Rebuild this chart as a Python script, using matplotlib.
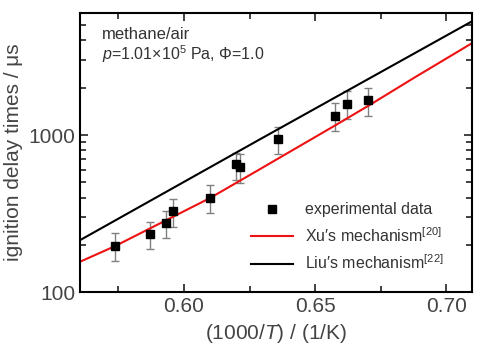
import matplotlib
matplotlib.use("Agg")
import matplotlib.pyplot as plt
from matplotlib.ticker import LogLocator, NullFormatter, FixedLocator

plt.rcParams['font.family'] = ['Liberation Sans', 'DejaVu Sans']
plt.rcParams['mathtext.fontset'] = 'custom'
plt.rcParams['mathtext.rm'] = 'Liberation Sans'
plt.rcParams['mathtext.it'] = 'Liberation Sans:italic'

# experimental data (1000/T, ignition delay in us, error bar limits)
exp_x = [0.5737, 0.5869, 0.5932, 0.5957, 0.6098, 0.6197, 0.6214, 0.6358, 0.6575, 0.6623, 0.6702]
exp_y = [196, 233, 277, 327, 396, 650, 628, 947, 1327, 1584, 1665]
exp_hi = [237, 280, 330, 391, 478, 771, 754, 1130, 1593, 1906, 1983]
exp_lo = [157, 188, 221, 261, 318, 516, 497, 757, 1060, 1270, 1326]

# Xu's mechanism
xu_x = [0.5603, 0.5736, 0.6099, 0.6290, 0.6576, 0.6710, 0.6875, 0.7098]
xu_y = [156, 196, 397, 607, 1150, 1560, 2300, 3840]

# Liu's mechanism
liu_x = [0.5603, 0.6290, 0.7098]
liu_y = [214, 940, 5290]

fig = plt.figure(figsize=(4.9, 3.55), dpi=100)
ax = fig.add_axes([0.163, 0.177, 0.800, 0.787])

err_lo = [y - l for y, l in zip(exp_y, exp_lo)]
err_hi = [h - y for y, h in zip(exp_y, exp_hi)]
ax.errorbar(exp_x, exp_y, yerr=[err_lo, err_hi], fmt='none', ecolor='#808080',
            elinewidth=1.0, capsize=3, capthick=1.0, zorder=2)
pts, = ax.plot(exp_x, exp_y, 's', color='black', markersize=6, zorder=3)
xu, = ax.plot(xu_x, xu_y, color='#ee1111', lw=1.5, zorder=2)
liu, = ax.plot(liu_x, liu_y, color='black', lw=1.5, zorder=2)

ax.set_yscale('log')
ax.set_xlim(0.5603, 0.7098)
ax.set_ylim(100, 6000)
ax.xaxis.set_major_locator(FixedLocator([0.60, 0.65, 0.70]))
ax.xaxis.set_minor_locator(FixedLocator([0.575, 0.625, 0.675]))
ax.set_xticklabels(['0.60', '0.65', '0.70'])
ax.yaxis.set_major_locator(FixedLocator([100, 1000]))
ax.yaxis.set_minor_locator(LogLocator(base=10, subs=range(2, 10)))
ax.yaxis.set_minor_formatter(NullFormatter())
ax.set_yticklabels(['100', '1000'])

ax.tick_params(which='both', direction='in', top=True, right=True, width=1.3)
ax.tick_params(which='major', length=6, labelsize=15, colors='#333333', labelcolor='#444444')
ax.tick_params(which='minor', length=4, colors='#333333')
for s in ax.spines.values():
    s.set_linewidth(1.5)

ax.set_xlabel('(1000/$T$) / (1/K)', fontsize=15, color='#444444', labelpad=4)
ax.set_ylabel('ignition delay times / \u03bcs', fontsize=15, color='#444444', labelpad=4)

ax.text(0.056, 0.905, 'methane/air', transform=ax.transAxes, fontsize=12, color='#333333')
ax.text(0.056, 0.83, '$p$=1.01\u00d710$^5$ Pa, $\\Phi$=1.0', transform=ax.transAxes,
        fontsize=11.5, color='#333333')

ax.legend([pts, xu, liu],
          ['experimental data', 'Xu\u2032s mechanism$^{[20]}$', 'Liu\u2032s mechanism$^{[22]}$'],
          loc='lower left', bbox_to_anchor=(0.40, 0.02), frameon=False, fontsize=11.5,
          handlelength=2.6, handletextpad=0.8, labelspacing=0.55, labelcolor='#333333')

fig.savefig('out.png', dpi=100)
